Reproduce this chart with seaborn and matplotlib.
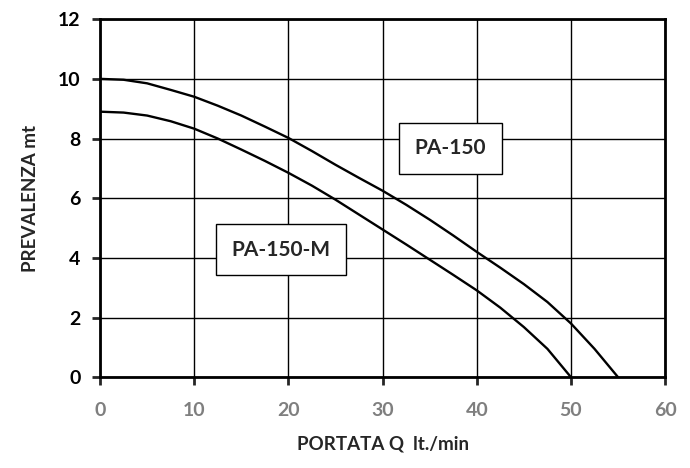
import pandas as pd
import seaborn as sns
import matplotlib.pyplot as plt

# Data (portata lt./min, prevalenza mt)
portata_150 = [0, 2.5, 5, 7.5, 10, 12.5, 15, 17.5, 20, 22.5, 25, 27.5, 30,
               32.5, 35, 37.5, 40, 42.5, 45, 47.5, 50, 52.5, 55]
prevalenza_150 = [10, 9.97, 9.85, 9.63, 9.40, 9.10, 8.77, 8.40, 8.02, 7.58, 7.12, 6.68, 6.25,
                  5.78, 5.28, 4.75, 4.20, 3.67, 3.12, 2.52, 1.80, 0.95, 0]
portata_150m = [0, 2.5, 5, 7.5, 10, 12.5, 15, 17.5, 20, 22.5, 25, 27.5, 30,
                32.5, 35, 37.5, 40, 42.5, 45, 47.5, 50]
prevalenza_150m = [8.9, 8.87, 8.77, 8.58, 8.33, 8.0, 7.63, 7.25, 6.85, 6.42, 5.95, 5.45, 4.95,
                   4.45, 3.94, 3.43, 2.91, 2.33, 1.68, 0.95, 0]

df = pd.concat([
    pd.DataFrame({"Q": portata_150, "H": prevalenza_150, "pompa": "PA-150"}),
    pd.DataFrame({"Q": portata_150m, "H": prevalenza_150m, "pompa": "PA-150-M"}),
])

sns.set_style("ticks")
plt.rcParams['font.family'] = ['Lato', 'DejaVu Sans']

fig = plt.figure(figsize=(6.9, 4.68), dpi=100)
ax = fig.add_axes([0.145, 0.194, 0.819, 0.765])
sns.lineplot(data=df, x="Q", y="H", hue="pompa", palette=["black", "black"],
             linewidth=1.7, legend=False, ax=ax, sort=False)

ax.set_xlim(0, 60)
ax.set_ylim(0, 12)
ax.set_xticks(range(0, 61, 10))
ax.set_yticks(range(0, 13, 2))
ax.grid(True, color="black", linewidth=1)
for s in ax.spines.values():
    s.set_linewidth(2)
    s.set_color("black")
ax.tick_params(axis="both", length=6, width=2, direction="out")
ax.tick_params(axis="x", pad=12)
ax.tick_params(axis="y", pad=8)
plt.xticks(fontsize=14, fontweight="bold", color="#7f7f7f")
plt.yticks(fontsize=14, fontweight="bold", color="black")
ax.set_xlabel("PORTATA Q  lt./min", fontsize=13.5, fontweight="bold", labelpad=12)
ax.set_ylabel("PREVALENZA mt", fontsize=13.5, fontweight="bold", labelpad=14)

box = dict(boxstyle="square,pad=0.75", facecolor="white", edgecolor="black", linewidth=1)
ax.text(37.2, 7.67, "PA-150", fontsize=15, fontweight="bold", ha="center", va="center", bbox=box)
ax.text(19.2, 4.27, "PA-150-M", fontsize=15, fontweight="bold", ha="center", va="center", bbox=box)

plt.savefig("out.png", dpi=100)
